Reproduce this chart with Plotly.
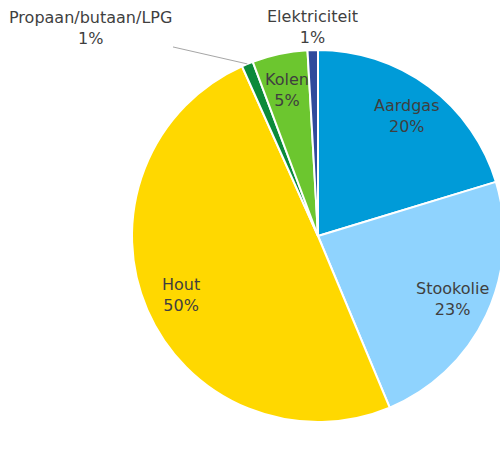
import math
import plotly.graph_objects as go

labels = ["Aardgas", "Stookolie", "Hout", "Propaan/butaan/LPG", "Kolen", "Elektriciteit"]
values = [20.3, 23.4, 49.6, 1.0, 4.8, 0.9]
colors = ["#009BD8", "#8FD3FE", "#FFD800", "#0B8A3A", "#6CC62F", "#2F4B9C"]
pct_labels = ["20%", "23%", "50%", "1%", "5%", "1%"]

W, H = 504, 454
dom_x = [132 / W, 504 / W]
dom_y = [32 / H, 404 / H]
cx = (dom_x[0] + dom_x[1]) / 2 * W
cy = H - (dom_y[0] + dom_y[1]) / 2 * H
R = min((dom_x[1] - dom_x[0]) * W, (dom_y[1] - dom_y[0]) * H) / 2

fig = go.Figure(go.Pie(
    labels=labels, values=values, sort=False, direction="clockwise", rotation=0,
    marker=dict(colors=colors, line=dict(color="white", width=2)),
    textinfo="none", hoverinfo="label+percent", showlegend=False,
    domain=dict(x=dom_x, y=dom_y),
))

total = sum(values)
cum = 0
font = dict(family="DejaVu Sans", size=16, color="#3F3F3F")
for lab, v, p in zip(labels, values, pct_labels):
    mid = (cum + v / 2) / total * 2 * math.pi
    cum += v
    sx, sy = math.sin(mid), math.cos(mid)
    text = f"{lab}<br>{p}"
    if v >= 3:
        f = 0.8
        px = cx + R * f * sx
        py = cy - R * f * sy
        fig.add_annotation(x=px / W, y=1 - py / H, xref="paper", yref="paper",
                           xanchor="center", yanchor="middle",
                           text=text, showarrow=False, font=font)
    elif lab == "Elektriciteit":
        px = cx + R * 1.125 * sx
        py = cy - R * 1.125 * sy
        fig.add_annotation(x=px / W, y=1 - py / H, xref="paper", yref="paper",
                           xanchor="center", yanchor="middle",
                           text=text, showarrow=False, font=font)
    else:
        ex = cx + R * sx
        ey = cy - R * sy
        fig.add_annotation(x=ex / W, y=1 - ey / H, xref="paper", yref="paper",
                           text=text, showarrow=True, arrowhead=0, arrowwidth=1,
                           arrowcolor="#A6A6A6", ax=90 - ex, ay=28 - ey,
                           font=font)

fig.update_layout(width=W, height=H, margin=dict(l=0, r=0, t=0, b=0),
                  paper_bgcolor="white", plot_bgcolor="white")
fig.write_html("out.html", config={"displayModeBar": False},
               post_script="document.body.style.margin='0';document.body.style.overflow='hidden';")
